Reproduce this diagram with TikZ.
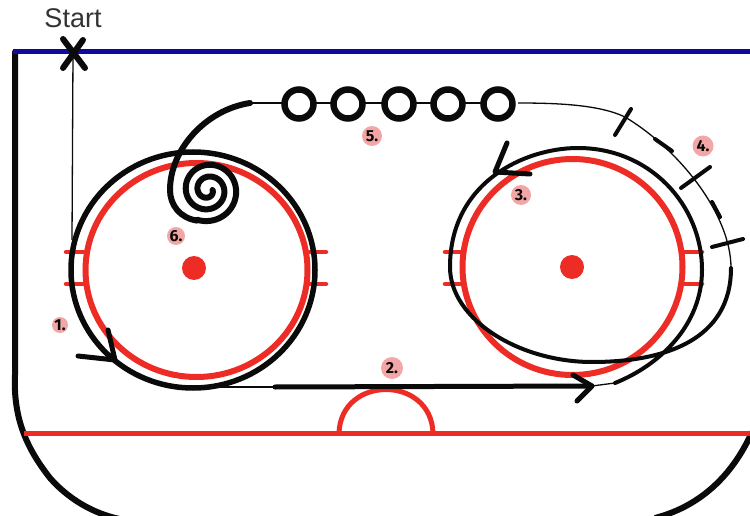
\documentclass[tikz,border=0pt]{standalone}
\usepackage{fontspec}
\setmainfont{Liberation Sans}
\newfontfamily\numfont{Fira Sans}
\definecolor{rinkred}{HTML}{EE2C26}
\definecolor{rinkblue}{HTML}{100A9A}
\definecolor{badge}{HTML}{F2A6A6}
\definecolor{inkblack}{HTML}{0A0A0A}
\begin{document}
\begin{tikzpicture}[x=1pt,y=-1pt,
  redline/.style={draw=rinkred,line width=5pt},
  redring/.style={draw=rinkred,line width=6pt},
  redtick/.style={draw=rinkred,line width=4.5pt,line cap=round},
  faceoff/.style={circle,fill=rinkred,minimum size=24pt,inner sep=0pt},
  wall/.style={draw=inkblack,line width=6pt},
  heavy/.style={draw=inkblack,line width=5pt,line cap=round,line join=round},
  spiralline/.style={draw=inkblack,line width=6pt,line cap=round,line join=round},
  medium/.style={draw=inkblack,line width=4pt,line cap=round,line join=round},
  thin path/.style={draw=inkblack,line width=1.3pt},
  cone/.style={circle,draw=inkblack,line width=6.5pt,fill=white,minimum size=29pt,inner sep=0pt},
  numbadge/.style={circle,fill=badge,inner sep=0pt,font=\numfont\bfseries\fontsize{16}{16}\selectfont,text=inkblack}]
\useasboundingbox (0,0) rectangle (750,516);
\fill[white] (0,0) rectangle (750,516);
% rink boards
\draw[wall,line cap=round] (15,52) -- (15,375) .. controls (13,420) and (28,450) .. (50,478)
  .. controls (72,503) and (100,516) .. (125,520);
\draw[wall] (752,432) .. controls (735,470) and (705,505) .. (655,518);
\draw[draw=rinkblue,line width=5.5pt] (13,51.5) -- (750,51.5);
% red markings
\draw[redline] (24,433) -- (750,433);
\draw[redline] (339,433) .. controls (341,375) and (431,375) .. (433,433);
\draw[redring] (196.5,270) ellipse [x radius=111,y radius=107];
\draw[redring] (572.5,267) ellipse [x radius=110,y radius=108];
\foreach \yy in {252,284}{
  \draw[redtick] (66,\yy) -- (86,\yy);
  \draw[redtick] (308,\yy) -- (326,\yy);
  \draw[redtick] (445,\yy) -- (462,\yy);
  \draw[redtick] (683,\yy) -- (702,\yy);
}
\node[faceoff] (dotL) at (194,268) {};
\node[faceoff] (dotR) at (572,267) {};
% start
\node[font=\fontsize{27}{27}\selectfont,text=black!80] (start) at (73,18) {Start};
\coordinate (x) at (73,54);
\draw[thin path] (x) -- (72,240);
\draw[spiralline] (63,68) -- (83,40) (63,39) -- (85,68);
% left loop
\draw[heavy,line width=5.5pt] (193,270) ellipse [x radius=122,y radius=118];
\draw[heavy] (108,330) -- (115,360) -- (78,356);
% line 2
\coordinate (a2) at (275,387);
\coordinate (tip2) at (592,386);
\draw[thin path] (220,387) -- (a2);
\draw[heavy] (a2) -- (tip2);
\draw[heavy] (573,375) -- (tip2) -- (577,401);
% right loop
\draw[thin path] (tip2) -- (615,383);
\draw[medium] (615,383) .. controls (660,365) and (702,325) .. (702,270)
  .. controls (702,205) and (650,148) .. (578,148)
  .. controls (525,148) and (450,182) .. (450,267)
  .. controls (450,320) and (520,362) .. (592,362)
  .. controls (665,362) and (731,340) .. (731,268);
\draw[heavy] (507,143) -- (495,172) -- (530,174);
% thin return with thick dashes
\draw[thin path] (731,268) .. controls (731,215) and (680,150) .. (625,117)
  .. controls (600,105) and (560,103) .. (518,103);
\draw[medium] (655,139) -- (672,151);
\draw[medium] (712,202) -- (720,217);
\draw[medium] (615,135) -- (631,109);
\draw[medium] (681,188) -- (710,167);
\draw[medium] (712,247) -- (743,239);
% cones
\coordinate (pathEnd) at (250,103);
\draw[thin path] (pathEnd) -- (498,103);
\node[cone] (c1) at (299,104) {};
\node[cone] (c2) at (348,104) {};
\node[cone] (c3) at (399,104) {};
\node[cone] (c4) at (448,104) {};
\node[cone] (c5) at (498,104) {};
% spiral
\draw[spiralline] (pathEnd) .. controls (205,110) and (170,150) .. (170,190)
  .. controls (170,205) and (180,218) .. (197,220.6)
  -- plot[domain=110:-720,samples=140,variable=\t]
   ({208+(4.5+0.03278*(\t+720))*cos(\t)},{190+(4.5+0.03278*(\t+720))*sin(\t)});
% number badges
\node[numbadge,minimum size=16pt] (n1) at (60,325) {1.};
\node[numbadge,minimum size=22pt] (n2) at (392,368) {2.};
\node[numbadge,minimum size=20pt] (n3) at (521,195) {3.};
\node[numbadge,minimum size=21pt] (n4) at (703,146) {4.};
\node[numbadge,minimum size=20pt] (n5) at (372,136) {5.};
\node[numbadge,minimum size=18pt] (n6) at (176,236) {6.};
\end{tikzpicture}
\end{document}
